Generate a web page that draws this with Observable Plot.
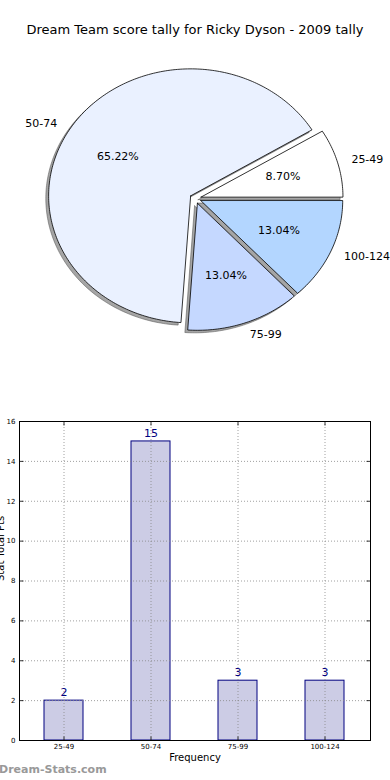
<!DOCTYPE html>
<html>
<head>
<meta charset="utf-8">
<script src="https://cdn.jsdelivr.net/npm/d3@7"></script>
<script src="https://cdn.jsdelivr.net/npm/@observablehq/plot@0.6"></script>
<style>
  html, body { margin: 0; padding: 0; background: #fff; }
  body { width: 390px; height: 780px; position: relative; overflow: hidden; font-family: "DejaVu Sans", sans-serif; }
  #title { position: absolute; left: 0; top: 21px; width: 390px; text-align: center; font-size: 13px; line-height: 18px; color: #000; }
  #pie { position: absolute; left: 0; top: 0; }
  #bar { position: absolute; left: 0; top: 400px; }
  #wm { position: absolute; left: -1px; top: 762px; font-size: 11px; font-weight: bold; color: #999; line-height: 16px; }
</style>
</head>
<body>
<div id="pie"></div>
<div id="title">Dream Team score tally for Ricky Dyson - 2009 tally</div>
<div id="bar"></div>
<div id="wm">Dream-Stats.com</div>
<script>
// ---- data ----
const categories = ["25-49", "50-74", "75-99", "100-124"];
const pieValues = [2, 15, 3, 3];
const barValues = [2, 15, 3, 3];
const yTickValues = [0, 2, 4, 6, 8, 10, 12, 14, 16];
const titleText = "Dream Team score tally for Ricky Dyson - 2009 tally";
const xAxisLabel = "Frequency";
const yAxisLabel = "Stat Total Pts";

// ---- styles ----
const sliceColors = ["#ffffff", "#eaf1ff", "#c5d8ff", "#b3d6ff"];
const explode = 0.04;
const shadowOffset = 0.02;

// ---- pie geometry (computed from data) ----
const total = d3.sum(pieValues);
let acc = 0;
const slices = categories.map((c, i) => {
  const t1 = acc / total * 360;
  acc += pieValues[i];
  const t2 = acc / total * 360;
  const mid = (t1 + t2) / 2 * Math.PI / 180;
  return {cat: c, value: pieValues[i], color: sliceColors[i], t1, t2, mid,
          ox: explode * Math.cos(mid), oy: explode * Math.sin(mid),
          pct: (pieValues[i] / total * 100).toFixed(2) + "%"};
});
function polygon(s, dx, dy) {
  const pts = [{x: s.ox + dx, y: s.oy + dy}];
  const n = Math.max(2, Math.ceil(s.t2 - s.t1));
  for (let k = 0; k <= n; k++) {
    const a = (s.t1 + (s.t2 - s.t1) * k / n) * Math.PI / 180;
    pts.push({x: s.ox + dx + Math.cos(a), y: s.oy + dy + Math.sin(a)});
  }
  pts.push({x: s.ox + dx, y: s.oy + dy});
  return pts.map(p => ({...p, key: s.cat, color: s.color}));
}
const wedgePts = slices.flatMap(s => polygon(s, 0, 0));
const shadowPts = slices.flatMap(s => polygon(s, -shadowOffset, -shadowOffset));
const labelPts = slices.map(s => ({
  x: (1.1 + explode) * Math.cos(s.mid), y: (1.1 + explode) * Math.sin(s.mid), text: s.cat
}));
const pctPts = slices.map(s => ({
  x: (0.6 + explode) * Math.cos(s.mid), y: (0.6 + explode) * Math.sin(s.mid), text: s.pct
}));

const cx = 195, cy = 198, rx = 142, ry = 127, W = 390, H = 390;
const pie = Plot.plot({
  width: W, height: H, margin: 0,
  style: {fontFamily: "DejaVu Sans", background: "transparent", overflow: "visible"},
  x: {domain: [-cx / rx, (W - cx) / rx], range: [0, W], axis: null},
  y: {domain: [-(H - cy) / ry, cy / ry], range: [H, 0], axis: null},
  color: {type: "identity"},
  marks: [
    Plot.line(shadowPts, {x: "x", y: "y", z: "key", fill: "#4c4c4c", fillOpacity: 0.5, stroke: "#4c4c4c", strokeOpacity: 0.5, strokeWidth: 1, curve: "linear"}),
    Plot.line(wedgePts, {x: "x", y: "y", z: "key", fill: "color", stroke: "#000", strokeWidth: 0.8, curve: "linear"}),
    Plot.text(labelPts.filter(d => d.x >= 0), {x: "x", y: "y", text: "text", textAnchor: "start", fontSize: 11, fill: "#000"}),
    Plot.text(labelPts.filter(d => d.x < 0), {x: "x", y: "y", text: "text", textAnchor: "end", fontSize: 11, fill: "#000"}),
    Plot.text(pctPts, {x: "x", y: "y", text: "text", fontSize: 11, fill: "#000"})
  ]
});
document.getElementById("pie").appendChild(pie);

// ---- bar chart ----
const barData = categories.map((c, i) => ({cat: c, value: barValues[i]}));
const tickRight = {draw(ctx) { ctx.moveTo(0, 0); ctx.lineTo(4, 0); }};
const tickLeft = {draw(ctx) { ctx.moveTo(0, 0); ctx.lineTo(-4, 0); }};
const tickUp = {draw(ctx) { ctx.moveTo(0, 0); ctx.lineTo(0, -4); }};
const tickDown = {draw(ctx) { ctx.moveTo(0, 0); ctx.lineTo(0, 4); }};
const gridStyle = {stroke: "#888", strokeWidth: 0.8, strokeDasharray: "1,2", strokeOpacity: 1};

const bar = Plot.plot({
  width: 390, height: 380,
  marginTop: 21, marginBottom: 40, marginLeft: 19, marginRight: 20,
  style: {fontFamily: "DejaVu Sans", background: "transparent", overflow: "visible"},
  x: {domain: categories, paddingInner: 0.55, paddingOuter: 0.275, label: null},
  y: {domain: [0, 16], label: null},
  marks: [
    Plot.barY(barData, {x: "cat", y: "value", fill: "#ccccE5", stroke: "#000080", strokeWidth: 1}),
    Plot.gridY(yTickValues.slice(1, -1), gridStyle),
    Plot.ruleX(categories, {x: d => d, ...gridStyle}),
    Plot.dot(yTickValues, {y: d => d, frameAnchor: "left", symbol: tickRight, stroke: "#000", strokeWidth: 0.8, fill: "none"}),
    Plot.dot(yTickValues, {y: d => d, frameAnchor: "right", symbol: tickLeft, stroke: "#000", strokeWidth: 0.8, fill: "none"}),
    Plot.dot(categories, {x: d => d, frameAnchor: "bottom", symbol: tickUp, stroke: "#000", strokeWidth: 0.8, fill: "none"}),
    Plot.dot(categories, {x: d => d, frameAnchor: "top", symbol: tickDown, stroke: "#000", strokeWidth: 0.8, fill: "none"}),
    Plot.frame({stroke: "#000", strokeWidth: 1}),
    Plot.axisY({ticks: yTickValues, tickSize: 0, tickPadding: 4, fontSize: 7, label: null, fill: "#000"}),
    Plot.axisX({tickSize: 0, tickPadding: 4, fontSize: 7, label: null, fill: "#000"}),
    Plot.text(barData, {x: "cat", y: "value", text: d => String(d.value), dy: -8, fill: "#000080", fontSize: 11}),
    Plot.text([xAxisLabel], {frameAnchor: "bottom", text: d => d, dy: 20, fontSize: 10, fill: "#000"}),
    Plot.text([yAxisLabel], {frameAnchor: "left", text: d => d, dx: -19, rotate: -90, fontSize: 10, fill: "#000"})
  ]
});
document.getElementById("bar").appendChild(bar);
document.getElementById("title").textContent = titleText;
</script>
</body>
</html>
